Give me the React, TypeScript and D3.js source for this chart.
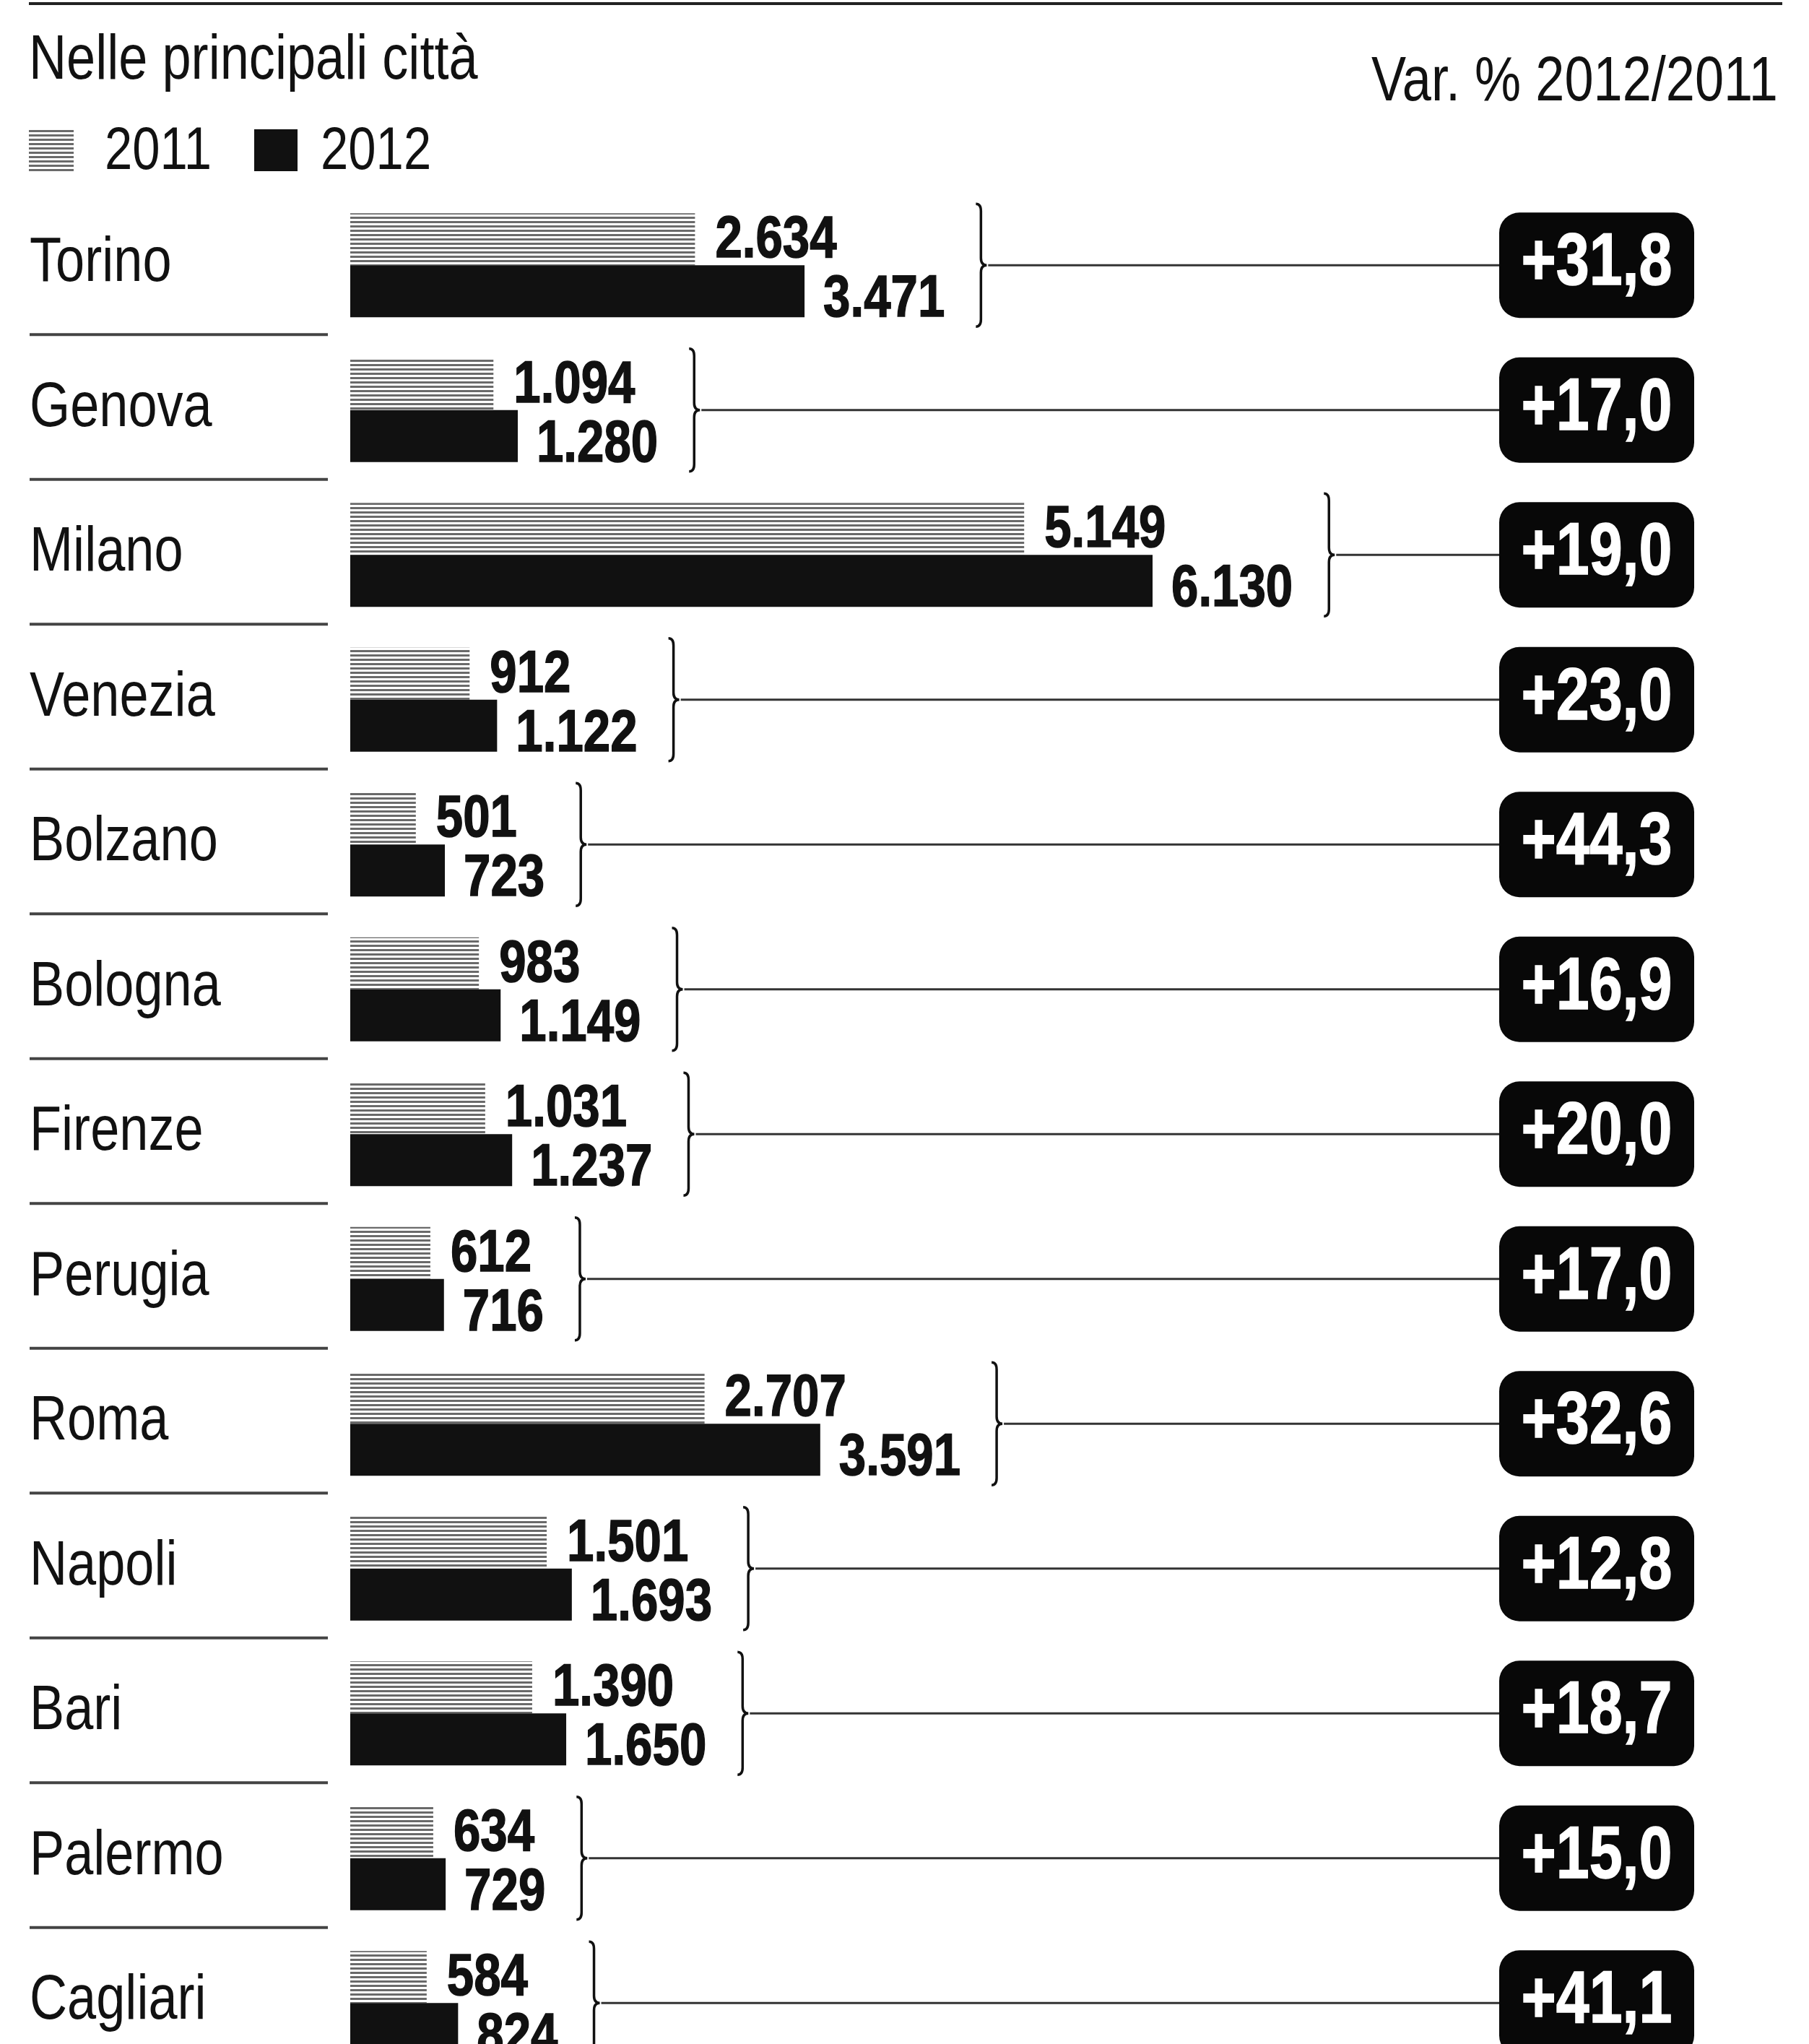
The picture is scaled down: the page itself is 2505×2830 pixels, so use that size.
import React from "react";
import * as d3 from "d3";

const cities = ["Torino", "Genova", "Milano", "Venezia", "Bolzano", "Bologna", "Firenze", "Perugia", "Roma", "Napoli", "Bari", "Palermo", "Cagliari"];
const values2011 = [2634, 1094, 5149, 912, 501, 983, 1031, 612, 2707, 1501, 1390, 634, 584];
const values2012 = [3471, 1280, 6130, 1122, 723, 1149, 1237, 716, 3591, 1693, 1650, 729, 824];
const changePct = [31.8, 17.0, 19.0, 23.0, 44.3, 16.9, 20.0, 17.0, 32.6, 12.8, 18.7, 15.0, 41.1];
const seriesLabels = ["2011", "2012"];
const titleText = "Nelle principali città";
const changeTitle = "Var. % 2012/2011";

const W = 2505;
const H = 2830;
const FONT = "'Liberation Sans', Arial, sans-serif";
const SX = 0.82;
const INK = "#111";

const itLocale = d3.formatLocale({ decimal: ",", thousands: ".", grouping: [3], currency: ["", " €"] });
const fmtN = itLocale.format(",");
const fmtP = itLocale.format("+.1f");

let ctx: CanvasRenderingContext2D | null = null;
function textW(s: string, font: string): number {
  if (!ctx) ctx = document.createElement("canvas").getContext("2d");
  if (!ctx) return s.length * 40;
  ctx.font = font;
  return ctx.measureText(s).width;
}

function Txt(props: { x: number; y: number; size: number; bold?: boolean; fill?: string; anchor?: string; sx?: number; children: string; stroke?: string; sw?: number }) {
  const { x, y, size, bold, fill = INK, anchor = "start", sx = SX, children, stroke, sw } = props;
  return (
    <text
      transform={`translate(${x},${y}) scale(${sx},1)`}
      fontFamily={FONT}
      fontSize={size}
      fontWeight={bold ? 700 : 400}
      fill={fill}
      textAnchor={anchor}
      stroke={stroke}
      strokeWidth={sw}
      paintOrder="stroke"
    >
      {children}
    </text>
  );
}

export default function App() {
  const x = d3.scaleLinear().domain([0, 6130]).range([485, 1596]);
  const y = d3.scaleBand<string>().domain(cities).range([267, 267 + 200.5 * cities.length]).padding(0);
  const bw = y.bandwidth();
  const barH = 72;
  const valSize = 82;
  const valFont = `bold ${valSize}px ${FONT}`;
  const badgeX = 2076;
  const badgeW = 270;
  const badgeH = 146;

  return (
    <svg width={W} height={H} viewBox={`0 0 ${W} ${H}`} style={{ position: "absolute", left: 0, top: 0, background: "#fff" }}>
      <defs>
        <pattern id="pat2011" width="6" height="6" patternUnits="userSpaceOnUse">
          <rect width="6" height="6" fill="#fff" />
          <rect width="6" height="3" fill="#6a6a6a" />
        </pattern>
      </defs>
      <rect width={W} height={H} fill="#fff" />
      <line x1={40} x2={2468} y1={5} y2={5} stroke="#222" strokeWidth={4} />
      <Txt x={40} y={109} size={88}>{titleText}</Txt>
      <Txt x={2462} y={139} size={88} anchor="end">{changeTitle}</Txt>

      {/* legend */}
      <rect x={40} y={179} width={62} height={58} fill="url(#pat2011)" />
      <Txt x={145} y={234} size={84}>{seriesLabels[0]}</Txt>
      <rect x={352} y={179} width={60} height={58} fill={INK} />
      <Txt x={444} y={234} size={84}>{seriesLabels[1]}</Txt>

      {cities.map((city, i) => {
        const c = (y(city) as number) + bw / 2;
        const v1 = values2011[i];
        const v2 = values2012[i];
        const l1 = fmtN(v1);
        const l2 = fmtN(v2);
        const lx1 = x(v1) + 28;
        const lx2 = x(v2) + 26;
        const end = Math.max(lx1 + textW(l1, valFont) * SX, lx2 + textW(l2, valFont) * SX);
        const bx = end + 50;
        const bt = c - 85;
        const bb = c + 85;
        const bracket = `M${bx - 7},${bt} Q${bx},${bt} ${bx},${bt + 10} L${bx},${c - 10} Q${bx},${c} ${bx + 8},${c} Q${bx},${c} ${bx},${c + 10} L${bx},${bb - 10} Q${bx},${bb} ${bx - 7},${bb}`;
        return (
          <g key={city}>
            <Txt x={41} y={c + 22} size={88}>{city}</Txt>
            <line x1={41} x2={454} y1={c + 96} y2={c + 96} stroke="#444" strokeWidth={4} />
            <rect x={x(0)} y={c - barH} width={x(v1) - x(0)} height={barH} fill="url(#pat2011)" />
            <rect x={x(0)} y={c} width={x(v2) - x(0)} height={barH} fill={INK} />
            <Txt x={lx1} y={c - 11} size={valSize} bold stroke={INK} sw={1.5}>{l1}</Txt>
            <Txt x={lx2} y={c + 71} size={valSize} bold stroke={INK} sw={1.5}>{l2}</Txt>
            <path d={bracket} fill="none" stroke={INK} strokeWidth={3.5} />
            <line x1={bx + 10} x2={badgeX} y1={c} y2={c} stroke="#333" strokeWidth={3} />
            <rect x={badgeX} y={c - badgeH / 2} width={badgeW} height={badgeH} rx={28} ry={28} fill="#080808" />
            <Txt x={badgeX + badgeW / 2} y={c + 27} size={102} bold fill="#fff" anchor="middle" sx={0.81} stroke="#fff" sw={1.5}>
              {fmtP(changePct[i])}
            </Txt>
          </g>
        );
      })}
    </svg>
  );
}
